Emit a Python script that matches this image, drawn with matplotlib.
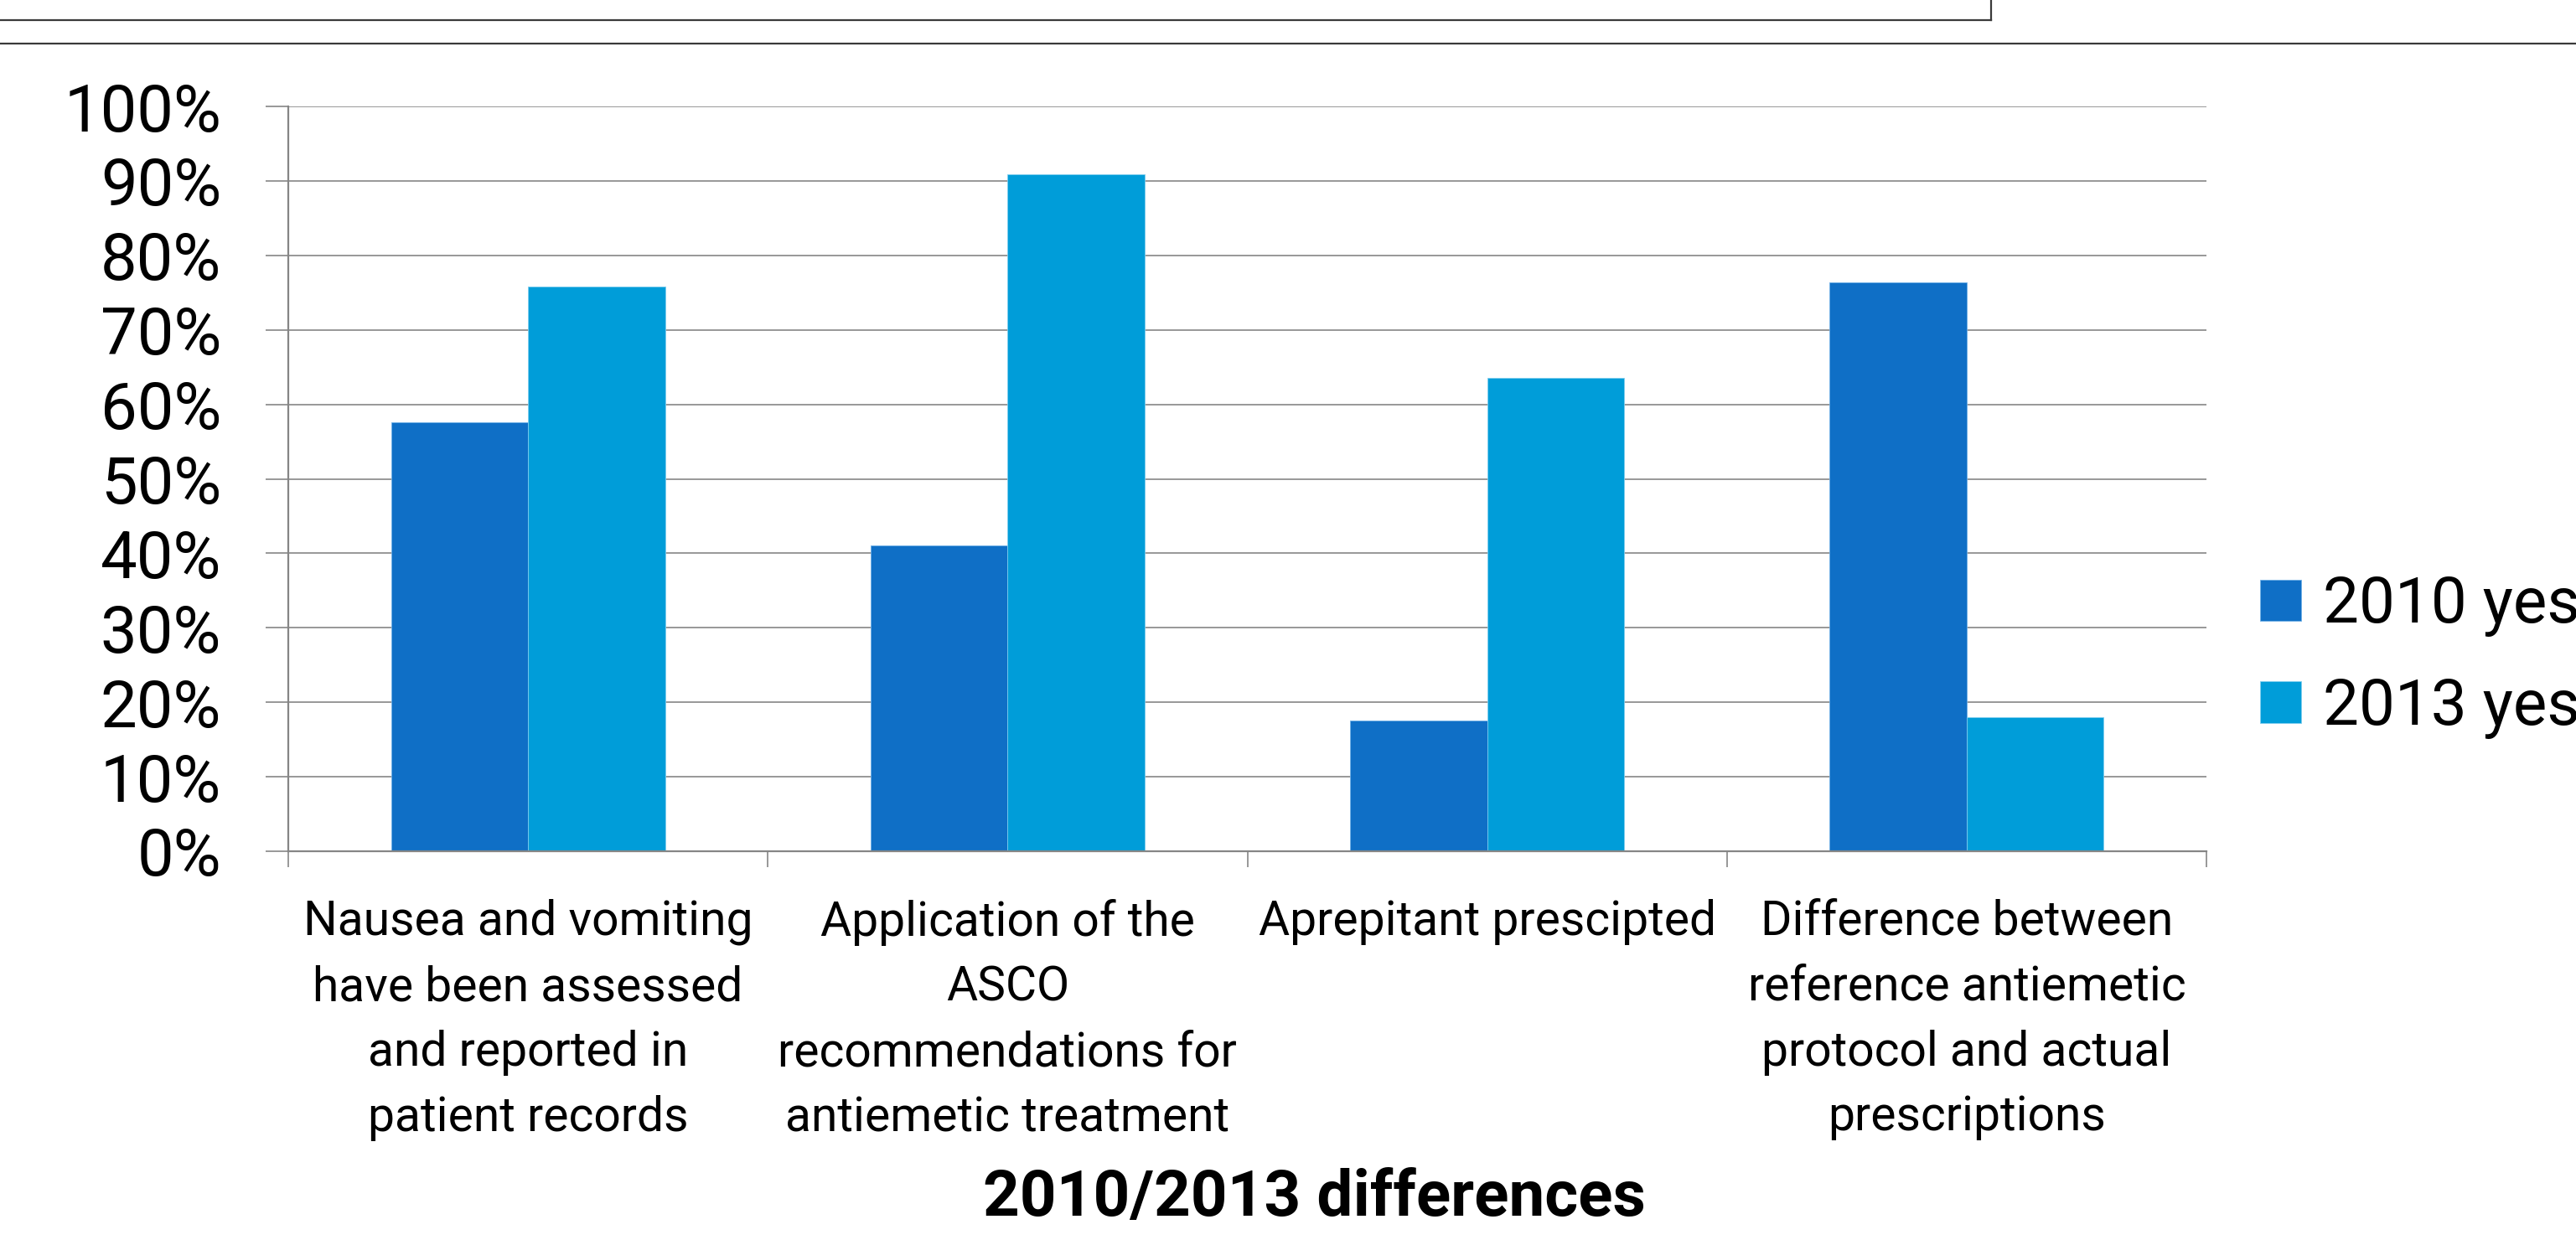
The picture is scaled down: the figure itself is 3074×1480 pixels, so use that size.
import numpy as np
import matplotlib
matplotlib.use("Agg")
import matplotlib.pyplot as plt
from matplotlib.lines import Line2D

plt.rcParams['font.family'] = ['Roboto', 'DejaVu Sans']

categories = ['Nausea and vomiting\nhave been assessed\nand reported in\npatient records',
              'Application of the\nASCO\nrecommendations for\nantiemetic treatment',
              'Aprepitant prescipted',
              'Difference between\nreference antiemetic\nprotocol and actual\nprescriptions']
yes_2010 = [57.6, 41.1, 17.5, 76.4]
yes_2013 = [75.8, 90.9, 63.6, 18.0]
series_names = ['2010 yes', '2013 yes']
yticks = [0, 10, 20, 30, 40, 50, 60, 70, 80, 90, 100]

c2010 = '#0F6FC6'
c2013 = '#009DD9'
grid_c = '#868686'

W, H = 3074, 1480
fig = plt.figure(figsize=(W / 100, H / 100), dpi=100)
ax = fig.add_axes([344 / W, 1 - 1016 / H, (2633 - 344) / W, (1016 - 127) / H])

x = np.arange(len(categories))
w = 1 / 3.5
b1 = ax.bar(x - w / 2, yes_2010, w, color=c2010, edgecolor='#6fb0e6', linewidth=0.6, label=series_names[0])
b2 = ax.bar(x + w / 2, yes_2013, w, color=c2013, edgecolor='#7fcdee', linewidth=0.6, label=series_names[1])

ax.set_xlim(-0.5, len(categories) - 0.5)
ax.set_ylim(0, 100)
ax.set_yticks(yticks)
ax.set_yticklabels(['%d%%' % t for t in yticks], fontsize=56)
ax.yaxis.grid(True, color=grid_c, linewidth=1.2)
ax.set_axisbelow(True)
ax.tick_params(axis='y', length=19.5, width=1.2, color=grid_c, pad=38)

ax.set_xticks(x)
ax.set_xticklabels(categories, fontsize=41, linespacing=1.53)
ax.set_xticks(np.arange(-0.5, len(categories)), minor=True)
ax.tick_params(axis='x', which='major', length=0, pad=41)
ax.tick_params(axis='x', which='minor', length=14, width=1.2, color=grid_c)

for s in ['top', 'right']:
    ax.spines[s].set_visible(False)
for s in ['left', 'bottom']:
    ax.spines[s].set_color(grid_c)
    ax.spines[s].set_linewidth(1.6)

leg = fig.legend(handles=[b1, b2], labels=series_names, loc='center left',
                 bbox_to_anchor=(2697 / W, 1 - 784 / H), frameon=False, fontsize=55,
                 handlelength=0.64, handleheight=0.62, handletextpad=0.34,
                 labelspacing=0.62, borderpad=0, borderaxespad=0)

fig.text(1568 / W, 1 - 1430 / H, '2010/2013 differences', ha='center', va='center',
         fontsize=55, fontweight='bold')

# frame lines at the top of the page
fig.add_artist(Line2D([0, 2376 / W], [1 - 24 / H, 1 - 24 / H], color='#3a3a3a', lw=1.6))
fig.add_artist(Line2D([2376 / W, 2376 / W], [1 - 24 / H, 1.0], color='#3a3a3a', lw=1.6))
fig.add_artist(Line2D([0, 1], [1 - 52 / H, 1 - 52 / H], color='#3a3a3a', lw=1.6))

fig.savefig('out.png', dpi=100)
